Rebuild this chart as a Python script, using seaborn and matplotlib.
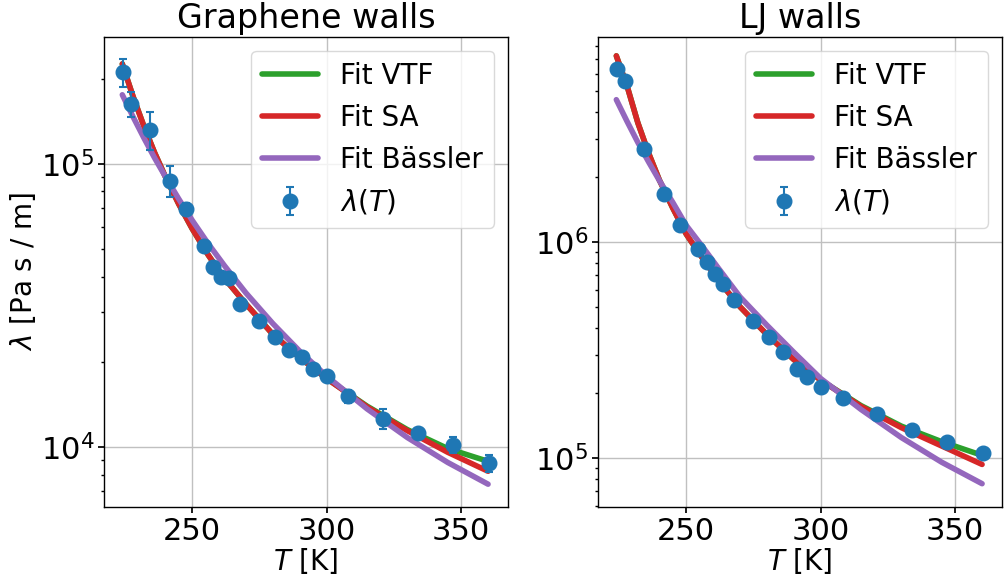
import numpy as np
import pandas as pd
import matplotlib
matplotlib.use("Agg")
import matplotlib.pyplot as plt
import seaborn as sns

# ---- data ----
T_data = [224.4, 227.4, 234.3, 241.6, 247.5, 254.5, 257.8, 260.6, 263.7, 267.6, 274.8,
          280.6, 285.9, 291.0, 294.9, 300.0, 308.1, 321.0, 334.0, 347.0, 360.2]

graphene_lam = [2.11e5, 1.63e5, 1.32e5, 8.73e4, 6.95e4, 5.13e4, 4.34e4, 3.98e4, 3.95e4,
                3.20e4, 2.79e4, 2.44e4, 2.21e4, 2.08e4, 1.88e4, 1.78e4, 1.51e4, 1.26e4,
                1.12e4, 1.02e4, 8.8e3]
graphene_err = [2.45e4, 1.6e4, 2.0e4, 1.1e4, 3e3, 2e3, 1.5e3, 1.5e3, 1.2e3, 1e3, 8e2,
                6e2, 6e2, 5e2, 6e2, 5e2, 8e2, 1.0e3, 4e2, 7e2, 6e2]

lj_lam = [6.28e6, 5.55e6, 2.68e6, 1.66e6, 1.19e6, 9.25e5, 8.03e5, 7.07e5, 6.37e5, 5.37e5,
          4.31e5, 3.61e5, 3.10e5, 2.59e5, 2.36e5, 2.13e5, 1.90e5, 1.59e5, 1.35e5, 1.19e5,
          1.05e5]
lj_err = [6e4, 5e4, 2.5e4, 1.5e4, 1e4, 8e3, 7e3, 6e3, 5e3, 4e3, 3e3, 3e3, 2.5e3, 2e3,
          2e3, 2e3, 1.5e3, 1.2e3, 1e3, 1e3, 8e2]

T_fit = [224, 228, 232, 236, 240, 245, 250, 256, 262, 270, 280, 290, 300, 315, 330, 345, 360]

graphene_vtf = [2.254e5, 1.730e5, 1.361e5, 1.096e5, 9.02e4, 7.21e4, 5.90e4, 4.76e4, 3.94e4,
                3.20e4, 2.50e4, 2.07e4, 1.746e4, 1.396e4, 1.153e4, 9.89e3, 8.91e3]
graphene_sa = [2.254e5, 1.730e5, 1.361e5, 1.096e5, 9.02e4, 7.21e4, 5.90e4, 4.76e4, 3.94e4,
               3.20e4, 2.50e4, 2.07e4, 1.746e4, 1.387e4, 1.143e4, 9.59e3, 8.22e3]
graphene_bassler = [1.754e5, 1.466e5, 1.236e5, 1.050e5, 9.02e4, 7.52e4, 6.32e4, 5.22e4,
                    4.37e4, 3.50e4, 2.73e4, 2.18e4, 1.782e4, 1.365e4, 1.081e4, 8.83e3, 7.40e3]

lj_vtf = [7.24e6, 5.25e6, 3.55e6, 2.57e6, 1.93e6, 1.43e6, 1.084e6, 8.41e5, 6.61e5, 5.00e5,
          3.72e5, 2.85e5, 2.29e5, 1.746e5, 1.403e5, 1.189e5, 1.028e5]
lj_sa = [7.24e6, 5.25e6, 3.55e6, 2.57e6, 1.93e6, 1.43e6, 1.084e6, 8.41e5, 6.61e5, 5.00e5,
         3.72e5, 2.85e5, 2.29e5, 1.73e5, 1.38e5, 1.135e5, 9.33e4]
lj_bassler = [4.54e6, 3.60e6, 2.88e6, 2.34e6, 1.92e6, 1.52e6, 1.19e6, 9.51e5, 7.53e5, 5.56e5,
              4.11e5, 3.08e5, 2.33e5, 1.675e5, 1.242e5, 9.55e4, 7.60e4]

titles = ["Graphene walls", "LJ walls"]
ylims = [(6.14e3, 2.81e5), (5.92e4, 8.87e6)]

# ---- style ----
sns.set_theme(style="ticks", rc={"axes.grid": True})
plt.rcParams["font.family"] = ["DejaVu Sans"]
plt.rcParams.update({
    "font.size": 20,
    "axes.labelsize": 20,
    "axes.titlesize": 24,
    "xtick.labelsize": 22,
    "ytick.labelsize": 22,
    "legend.fontsize": 20,
    "text.color": "black",
    "axes.labelcolor": "black",
    "grid.color": "#c0c0c0",
    "grid.linewidth": 1.0,
    "axes.edgecolor": "black",
    "axes.linewidth": 1.0,
    "xtick.color": "black",
    "ytick.color": "black",
    "xtick.major.size": 4,
    "ytick.major.size": 4,
    "ytick.minor.size": 2.5,
    "xtick.major.pad": 3,
    "ytick.major.pad": 3,
    "mathtext.fontset": "dejavusans",
})

fig, axes = plt.subplots(1, 2, figsize=(10.05, 5.75), dpi=100)
fig.subplots_adjust(left=0.1035, right=0.997, bottom=0.118, top=0.936, wspace=0.223)

panels = [
    (graphene_lam, graphene_err, graphene_vtf, graphene_sa, graphene_bassler),
    (lj_lam, lj_err, lj_vtf, lj_sa, lj_bassler),
]

for ax, (lam, err, vtf, sa, bas), title, ylim in zip(axes, panels, titles, ylims):
    fits = pd.DataFrame({"T": T_fit, "VTF": vtf, "SA": sa, "Bassler": bas})
    sns.lineplot(data=fits, x="T", y="VTF", ax=ax, color="tab:green", lw=4,
                 label="Fit VTF")
    sns.lineplot(data=fits, x="T", y="SA", ax=ax, color="tab:red", lw=4,
                 label="Fit SA")
    sns.lineplot(data=fits, x="T", y="Bassler", ax=ax, color="tab:purple", lw=4,
                 label="Fit Bässler")
    ax.errorbar(T_data, lam, yerr=err, fmt="o", color="tab:blue", markersize=10.5,
                capsize=3, elinewidth=1.5, capthick=1.5, label=r"$\lambda(T)$", zorder=5)
    ax.set_yscale("log")
    ax.set_ylim(*ylim)
    ax.set_xlim(217.2, 367.4)
    ax.set_xticks([250, 300, 350])
    ax.set_title(title, pad=6)
    ax.set_xlabel(r"$T$ [K]", labelpad=0)
    ax.set_ylabel("")
    ax.grid(True, which="major")
    ax.tick_params(which="both", direction="out", left=True, bottom=True)
    leg = ax.legend(loc="upper right", frameon=True, framealpha=0.8, fancybox=True)
    leg.get_frame().set_edgecolor("#d0d0d0")

axes[0].set_ylabel(r"$\lambda$ [Pa s / m]", labelpad=2)

fig.savefig("out.png", dpi=100)
